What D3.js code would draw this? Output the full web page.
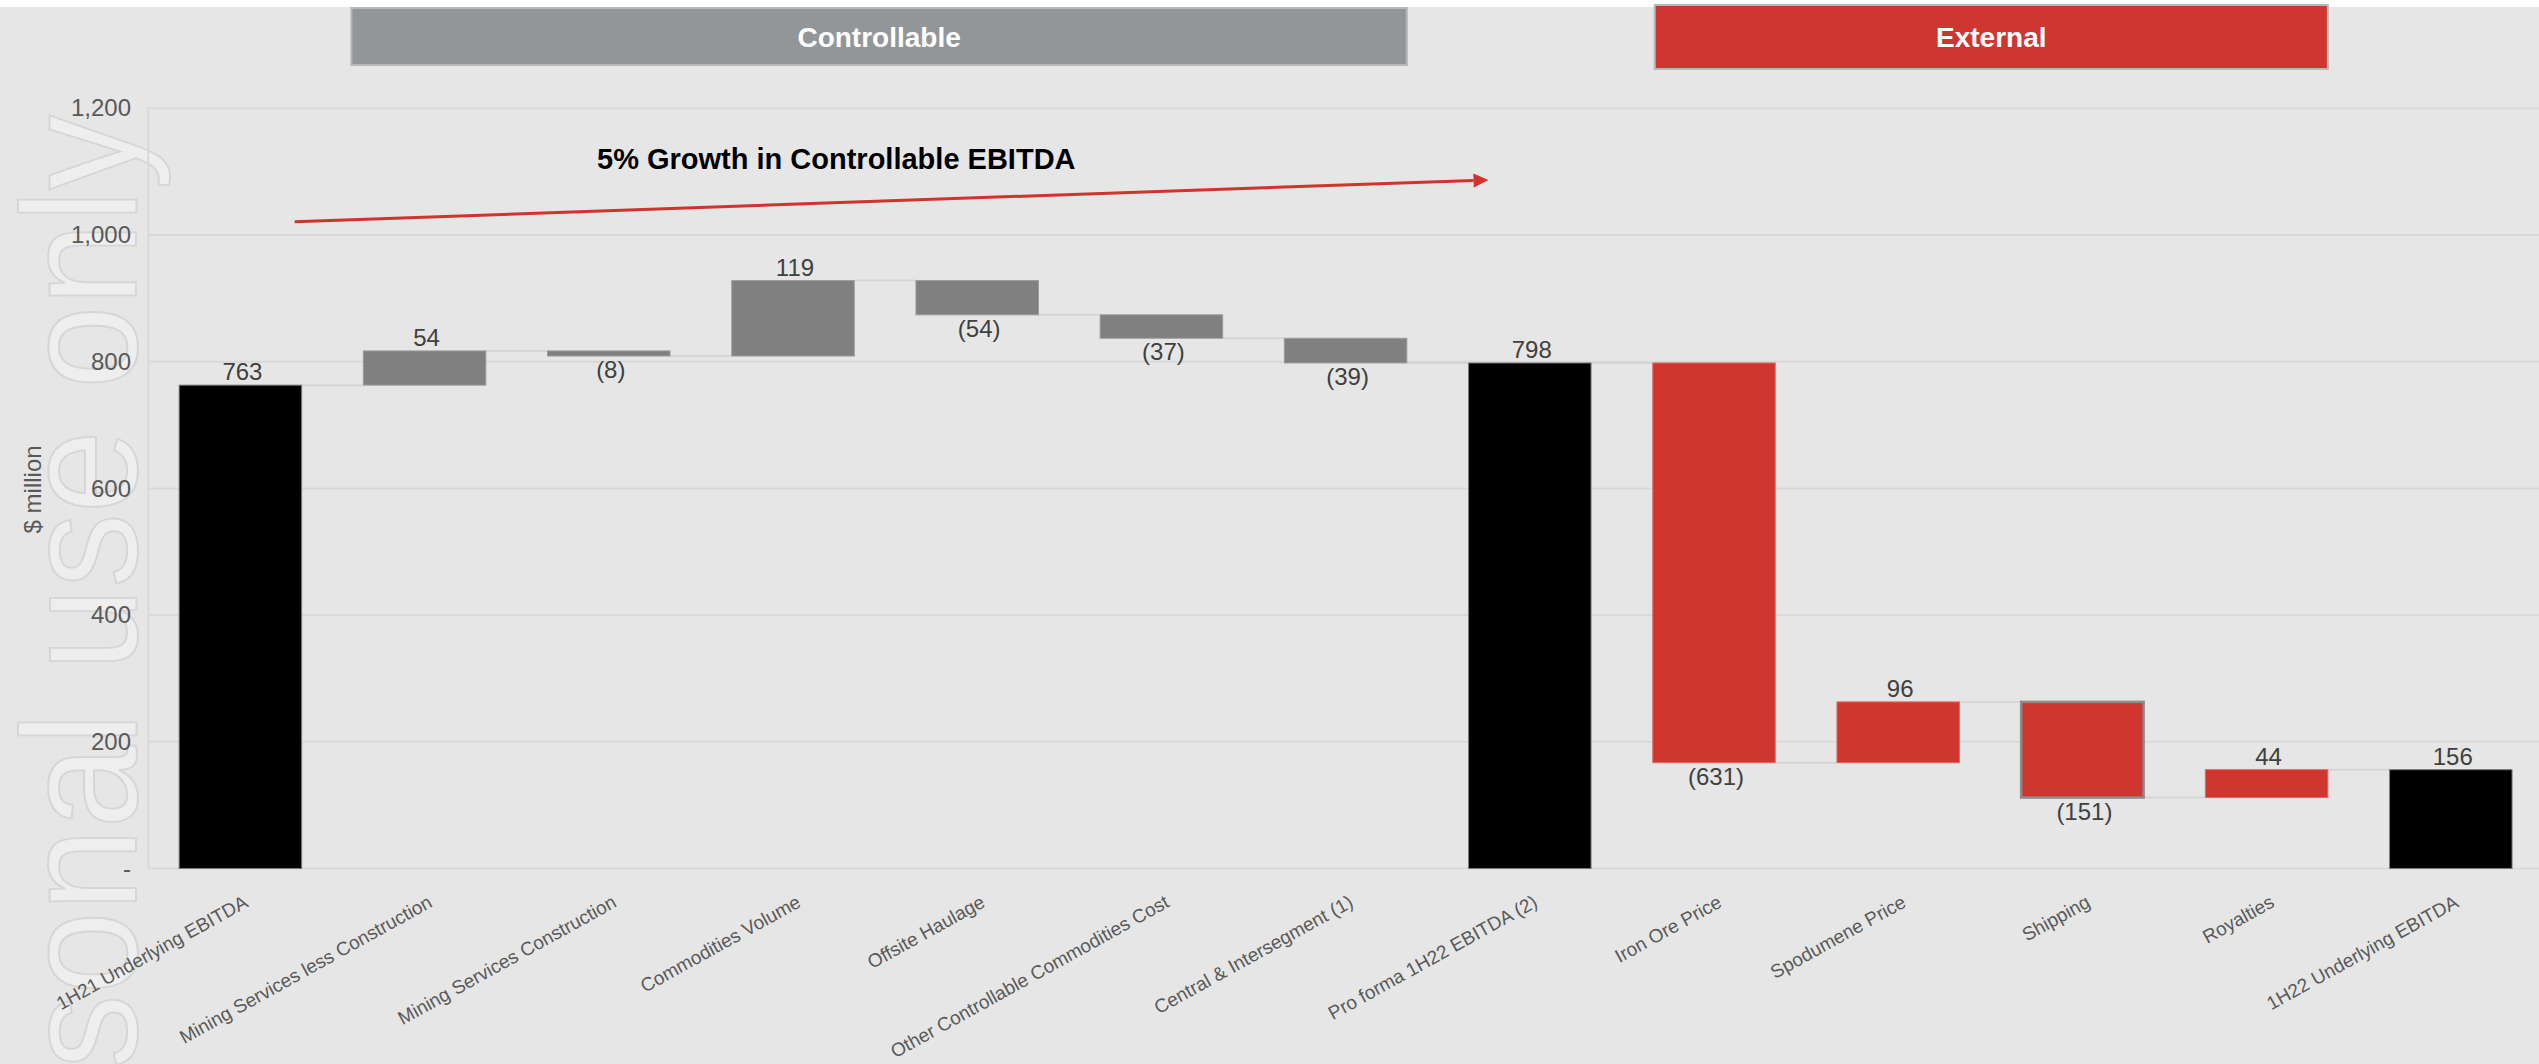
<!DOCTYPE html>
<html><head><meta charset="utf-8">
<script src="https://cdn.jsdelivr.net/npm/d3@7"></script>
<style>html,body{margin:0;padding:0;background:#fff;overflow:hidden}</style>
</head><body><svg id="c" width="2539" height="1064"></svg>
<script>
const categories = ["1H21 Underlying EBITDA","Mining Services less Construction","Mining Services Construction","Commodities Volume","Offsite Haulage","Other Controllable Commodities Cost","Central & Intersegment (1)","Pro forma 1H22 EBITDA (2)","Iron Ore Price","Spodumene Price","Shipping","Royalties","1H22 Underlying EBITDA"];
const values = [763, 54, -8, 119, -54, -37, -39, 798, -631, 96, -151, 44, 156];
const barTypes = ["total","controllable","controllable","controllable","controllable","controllable","controllable","total","external","external","external","external","total"];
const yTickValues = [0, 200, 400, 600, 800, 1000, 1200];
const yTickLabels = ["-", "200", "400", "600", "800", "1,000", "1,200"];
const headerLabels = ["Controllable", "External"];
const headerStart = ["Mining Services less Construction", "Iron Ore Price"];
const headerEnd = ["Central & Intersegment (1)", "Royalties"];
const annotationText = "5% Growth in Controllable EBITDA";
const arrowLevels = [1021, 1087];
const yAxisTitle = "$ million";
const watermarkText = "For personal use only";

const W = 2539, H = 1064;
const FONT = "'Liberation Sans', Arial, Helvetica, sans-serif";
const svg = d3.select("#c");

const x = d3.scaleBand().domain(categories).range([148.3, 2542.9]).paddingInner(0.335).paddingOuter(0.1675);
const y = d3.scaleLinear().domain([0, 1200]).range([868.5, 108.3]);
const bw = x.bandwidth();

// waterfall
let running = 0;
const bars = categories.map((c, i) => {
  const v = values[i], t = barTypes[i];
  let lo, hi, end;
  if (t === "total") { lo = 0; hi = v; end = v; }
  else { const s = running; end = s + v; lo = Math.min(s, end); hi = Math.max(s, end); }
  running = end;
  return {c, v, t, lo, hi, end};
});

// background
svg.append("rect").attr("x", 0).attr("y", 0).attr("width", W).attr("height", H).attr("fill", "#ffffff");
svg.append("rect").attr("x", 0).attr("y", 7).attr("width", W).attr("height", H - 7).attr("fill", "#e6e6e6");

// watermark
svg.append("text")
  .attr("transform", "translate(136,115) rotate(-90) scale(0.91,1)")
  .attr("text-anchor", "end")
  .attr("font-family", FONT).attr("font-size", 164)
  .attr("fill", "#eeeeee").attr("stroke", "#d6d6d6").attr("stroke-width", 2)
  .text(watermarkText);

// gridlines
svg.append("g").selectAll("line").data(yTickValues).join("line")
  .attr("x1", 148).attr("x2", W)
  .attr("y1", d => y(d)).attr("y2", d => y(d))
  .attr("stroke", "#d9d9d9").attr("stroke-width", 2);
// y axis line
svg.append("line").attr("x1", 148.3).attr("x2", 148.3).attr("y1", y(1200)).attr("y2", y(0))
  .attr("stroke", "#d9d9d9").attr("stroke-width", 2);

// y tick labels via axis
const yAxis = d3.axisLeft(y).tickValues(yTickValues).tickFormat((d, i) => yTickLabels[i]).tickSize(0).tickPadding(0);
const ga = svg.append("g").attr("transform", "translate(131,0)").call(yAxis);
ga.select(".domain").remove();
ga.selectAll("text").attr("font-family", FONT).attr("font-size", 24).attr("fill", "#595959");

// y axis title
svg.append("text").attr("transform", `translate(41,${(y(0)+y(1200))/2 + 1}) rotate(-90)`)
  .attr("text-anchor", "middle").attr("font-family", FONT).attr("font-size", 24).attr("fill", "#595959")
  .text(yAxisTitle);

// connectors
const conn = bars.slice(0, -1).map((b, i) => ({x1: x(b.c) + bw, x2: x(categories[i + 1]), v: b.end}));
svg.append("g").selectAll("line").data(conn).join("line")
  .attr("x1", d => d.x1).attr("x2", d => d.x2)
  .attr("y1", d => y(d.v)).attr("y2", d => y(d.v))
  .attr("stroke", "#d6d6d6").attr("stroke-width", 2);

// bars
const fillOf = {total: "#000000", controllable: "#808080", external: "#cf3630"};
const strokeOf = {total: "#7a7a7a", controllable: "#9a9a9a", external: "#dd6a66"};
svg.append("g").selectAll("rect").data(bars).join("rect")
  .attr("x", d => x(d.c)).attr("width", bw)
  .attr("y", d => y(d.hi)).attr("height", d => Math.max(1, y(d.lo) - y(d.hi)))
  .attr("fill", d => fillOf[d.t])
  .attr("stroke", d => d.c === "Shipping" ? "#8c8c8c" : strokeOf[d.t])
  .attr("stroke-width", d => d.c === "Shipping" ? 2.5 : 1);

// value labels
svg.append("g").selectAll("text").data(bars).join("text")
  .attr("x", d => x(d.c) + bw / 2 + 2)
  .attr("y", d => d.v >= 0 ? y(d.hi) - 5 : y(d.lo) + 22)
  .attr("text-anchor", "middle").attr("font-family", FONT).attr("font-size", 24).attr("fill", "#404040")
  .text(d => d.v >= 0 ? d3.format(",")(d.v) : "(" + d3.format(",")(-d.v) + ")");

// category labels
svg.append("g").selectAll("text").data(categories).join("text")
  .attr("transform", d => `translate(${x(d) + bw / 2 + 9},906) rotate(-29)`)
  .attr("text-anchor", "end").attr("font-family", FONT).attr("font-size", 19).attr("fill", "#595959")
  .text(d => d);

// headers
const headerFill = ["#939698", "#cf3631"];
const hdr = headerLabels.map((h, i) => {
  const x0 = i === 0 ? x(headerStart[i]) - 12 : x(headerStart[i]) + 2;
  const x1 = x(headerEnd[i]) + bw;
  return {h, x0, x1, y0: i === 0 ? 8 : 5, y1: i === 0 ? 65 : 69, fill: headerFill[i]};
});
const hg = svg.append("g");
hg.selectAll("rect").data(hdr).join("rect")
  .attr("x", d => d.x0).attr("y", d => d.y0).attr("width", d => d.x1 - d.x0).attr("height", d => d.y1 - d.y0)
  .attr("fill", d => d.fill).attr("stroke", "#b8b8b8").attr("stroke-width", 2);
hg.selectAll("text").data(hdr).join("text")
  .attr("x", d => (d.x0 + d.x1) / 2).attr("y", d => (d.y0 + d.y1) / 2 + 10)
  .attr("text-anchor", "middle").attr("font-family", FONT).attr("font-weight", "bold").attr("font-size", 28)
  .attr("fill", "#ffffff").text(d => d.h);

// annotation arrow
const ax0 = x(categories[0]) + bw - 7, ay0 = y(arrowLevels[0]);
const ax1 = x(categories[7]) + 20, ay1 = y(arrowLevels[1]);
const ang = Math.atan2(ay1 - ay0, ax1 - ax0);
const hl = 15, hw = 7;
const bx = ax1 - hl * Math.cos(ang), by = ay1 - hl * Math.sin(ang);
svg.append("line").attr("x1", ax0).attr("y1", ay0).attr("x2", bx).attr("y2", by)
  .attr("stroke", "#d0342c").attr("stroke-width", 3);
svg.append("path")
  .attr("d", `M${ax1},${ay1}L${bx - hw * Math.sin(ang)},${by + hw * Math.cos(ang)}L${bx + hw * Math.sin(ang)},${by - hw * Math.cos(ang)}Z`)
  .attr("fill", "#d0342c");
svg.append("text").attr("x", 597).attr("y", 168.5)
  .attr("font-family", FONT).attr("font-weight", "bold").attr("font-size", 29).attr("fill", "#000000")
  .text(annotationText);
</script>
</body></html>
